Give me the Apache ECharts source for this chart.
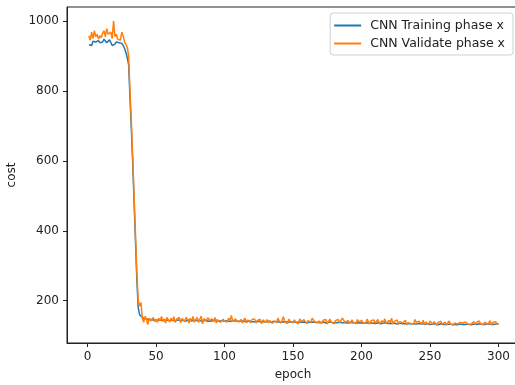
<!DOCTYPE html>
<html>
<head>
<meta charset="utf-8">
<script src="https://cdn.jsdelivr.net/npm/echarts@6/dist/echarts.min.js"></script>
<style>
  html, body { margin: 0; padding: 0; background: #fff; }
  #chart { width: 515px; height: 385px; }
</style>
</head>
<body>
<div id="chart"></div>
<script>
(function () {

    var seriesNames = ['CNN Training phase x', 'CNN Validate phase x'];
    var xTicks = [0, 50, 100, 150, 200, 250, 300];
    var yTicks = [200, 400, 600, 800, 1000];

    // cost per epoch, epochs 1..300
    var trainCost = [
        932, 936, 930, 942, 945, 940, 936, 944, 938, 935,
        940, 948, 944, 938, 942, 946, 944, 930, 926, 934,
        940, 944, 938, 940, 936, 930, 922, 910, 895, 875,
        780, 690, 590, 480, 370, 260, 180, 160, 165, 152,
        150, 148, 146, 147, 145, 146, 144, 145, 143, 145,
        145, 144, 146, 145, 143, 144, 146, 145, 144, 143,
        144, 145, 143, 142, 144, 145, 144, 143, 145, 144,
        143, 142, 144, 145, 143, 142, 143, 144, 142, 143,
        144, 143, 142, 141, 143, 144, 142, 141, 143, 142,
        141, 143, 142, 144, 143, 141, 142, 143, 142, 141,
        142, 143, 141, 140, 142, 143, 141, 142, 140, 141,
        142, 141, 140, 142, 141, 139, 140, 142, 141, 140,
        141, 140, 139, 141, 142, 140, 139, 140, 141, 139,
        140, 141, 139, 138, 140, 141, 139, 140, 138, 139,
        140, 139, 141, 140, 138, 139, 140, 138, 139, 140,
        139, 138, 140, 139, 137, 138, 140, 139, 138, 137,
        139, 138, 137, 139, 140, 138, 137, 138, 139, 137,
        138, 139, 137, 136, 138, 139, 137, 138, 136, 137,
        138, 137, 136, 138, 139, 137, 136, 137, 138, 136,
        137, 138, 136, 137, 138, 136, 135, 137, 138, 136,
        137, 136, 135, 137, 138, 136, 135, 136, 137, 135,
        136, 137, 135, 134, 136, 137, 135, 136, 134, 135,
        136, 135, 134, 136, 135, 133, 134, 136, 135, 134,
        135, 134, 133, 135, 136, 134, 133, 134, 135, 133,
        134, 135, 133, 134, 132, 133, 135, 134, 133, 132,
        134, 133, 132, 134, 133, 131, 132, 134, 133, 132,
        133, 132, 131, 133, 134, 132, 131, 132, 133, 131,
        132, 133, 131, 132, 134, 132, 131, 133, 132, 131,
        132, 133, 131, 132, 133, 134, 132, 133, 131, 132,
        133, 134, 132, 133, 131, 132, 134, 133, 132, 133
    ];

    var validCost = [
        958, 945, 968, 950, 972, 955, 962, 948, 958, 952,
        965, 972, 955, 978, 962, 958, 968, 950, 1000, 955,
        962, 948, 952, 945, 968, 958, 940, 935, 925, 900,
        800, 710, 610, 500, 390, 280, 200, 185, 195, 150,
        138, 155, 148, 132, 150, 142, 138, 152, 140, 146,
        138, 150, 142, 155, 140, 148, 136, 152, 145, 139,
        150, 141, 154, 138, 147, 143, 152, 137, 149, 144,
        140, 153, 146, 136, 150, 141, 155, 139, 145, 152,
        138, 147, 156, 134, 149, 142, 137, 151, 144, 140,
        148, 139, 152, 136, 145, 150, 138, 143, 147, 141,
        146, 139, 150, 143, 158, 141, 137, 148, 142, 145,
        139, 147, 136, 144, 150, 138, 145, 141, 137, 146,
        142, 148, 136, 143, 139, 147, 134, 145, 140, 138,
        146, 137, 143, 148, 135, 141, 145, 138, 150, 142,
        136, 144, 154, 139, 142, 135, 147, 140, 144, 137,
        145, 139, 143, 134, 148, 140, 137, 146, 141, 135,
        143, 147, 138, 150, 152, 139, 144, 136, 142, 140,
        135, 144, 139, 146, 133, 141, 147, 138, 142, 134,
        143, 139, 146, 137, 141, 150, 154, 138, 135, 143,
        140, 136, 145, 138, 142, 134, 146, 139, 137, 144,
        138, 142, 135, 147, 140, 133, 143, 138, 145, 136,
        141, 146, 134, 139, 143, 137, 148, 135, 140, 144,
        137, 150, 133, 141, 138, 145, 132, 140, 143, 136,
        139, 144, 131, 137, 142, 135, 140, 133, 146, 138,
        135, 141, 137, 133, 144, 132, 139, 136, 131, 142,
        137, 133, 140, 135, 130, 138, 134, 141, 132, 136,
        139, 131, 135, 142, 133, 137, 130, 136, 140, 133,
        128, 138, 134, 136, 131, 139, 135, 132, 137, 133,
        136, 140, 132, 138, 135, 142, 134, 137, 131, 139,
        141, 133, 137, 143, 130, 138, 135, 140, 132, 136
    ];

    function pairs(arr) {
        return arr.map(function (v, i) { return [i + 1, v]; });
    }

    var font = 'DejaVu Sans';
    var plain = function (v) { return String(v); };

    var chart = echarts.init(document.getElementById('chart'), null, { renderer: 'canvas' });

    chart.setOption({
        animation: false,
        backgroundColor: '#fff',
        textStyle: { fontFamily: font },
        grid: {
            left: 67, top: 7, right: -4, bottom: 42,
            outerBoundsMode: 'none', containLabel: false,
            show: true, borderColor: '#222', borderWidth: 1, backgroundColor: 'transparent'
        },
        legend: {
            data: seriesNames,
            orient: 'vertical',
            right: 2, top: 13,
            backgroundColor: '#fff',
            borderColor: '#d0d0d0', borderWidth: 1, borderRadius: 3,
            padding: [6, 8, 5, 4],
            itemWidth: 27, itemHeight: 2, itemGap: 5,
            icon: 'rect',
            textStyle: { fontFamily: font, fontSize: 12.5, color: '#222', padding: [0, 0, 0, 4] }
        },
        xAxis: {
            type: 'value', min: -15, max: 315,
            name: 'epoch', nameLocation: 'middle', nameGap: 26,
            nameTextStyle: { fontFamily: font, fontSize: 12, color: '#222' },
            splitLine: { show: false },
            axisLine: { show: true, onZero: false, lineStyle: { color: '#222', width: 1 } },
            axisTick: { show: true, length: 4, customValues: xTicks, lineStyle: { color: '#222' } },
            axisLabel: { customValues: xTicks, formatter: plain, margin: 8,
                         fontFamily: font, fontSize: 12, color: '#222' }
        },
        yAxis: {
            type: 'value', min: 79, max: 1040,
            name: 'cost', nameLocation: 'middle', nameGap: 42, nameRotate: 90,
            nameTextStyle: { fontFamily: font, fontSize: 12, color: '#222' },
            splitLine: { show: false },
            axisLine: { show: true, onZero: false, lineStyle: { color: '#222', width: 1 } },
            axisTick: { show: true, length: 4, customValues: yTicks, lineStyle: { color: '#222' } },
            axisLabel: { customValues: yTicks, formatter: plain, margin: 8,
                         fontFamily: font, fontSize: 12, color: '#222' }
        },
        series: [
            { name: seriesNames[0], type: 'line', data: pairs(trainCost), symbol: 'none',
              lineStyle: { color: '#1f77b4', width: 1.5 }, itemStyle: { color: '#1f77b4' } },
            { name: seriesNames[1], type: 'line', data: pairs(validCost), symbol: 'none',
              lineStyle: { color: '#ff7f0e', width: 1.5 }, itemStyle: { color: '#ff7f0e' } }
        ]
    });

})();
</script>
</body>
</html>
